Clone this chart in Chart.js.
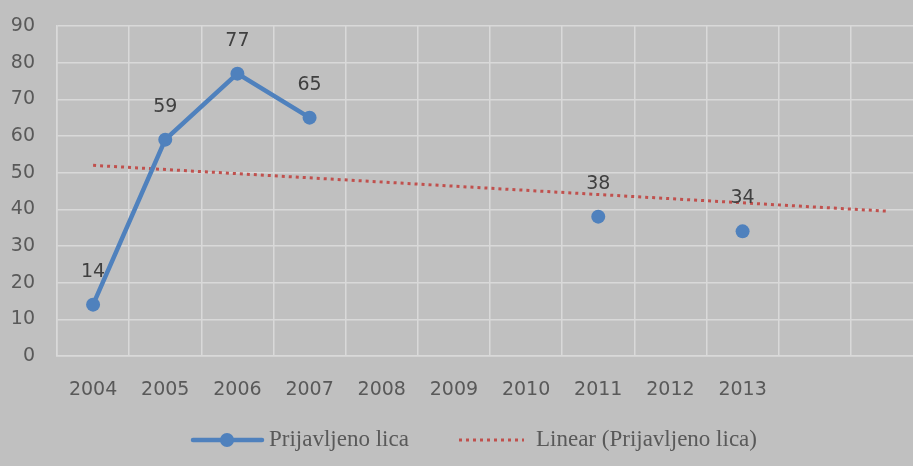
<!DOCTYPE html>
<html>
<head>
<meta charset="utf-8">
<script src="https://cdn.jsdelivr.net/npm/chart.js@4/dist/chart.umd.min.js"></script>
<style>
    html, body { margin: 0; padding: 0; background: #c0c0c0; overflow: hidden; }
    #wrap { width: 930px; height: 466px; }
</style>
</head>
<body>
<div id="wrap"><canvas id="chart"></canvas></div>
<script>
// data
const years = ['2004', '2005', '2006', '2007', '2008', '2009', '2010', '2011', '2012', '2013', '', ''];
const prijavljeno = [14, 59, 77, 65, null, null, null, 38, null, 34, null, null];
// linear trend, start and end
const trend = [52, null, null, null, null, null, null, null, null, null, null, 39.5];
const yTicks = [0, 10, 20, 30, 40, 50, 60, 70, 80, 90];

const seriesName = 'Prijavljeno lica';
const trendName = 'Linear (Prijavljeno lica)';

// values above the blue points
const valueLabels = {
    id: 'valueLabels',
    afterDatasetsDraw(chart) {
        const ctx = chart.ctx;
        const meta = chart.getDatasetMeta(0);
        ctx.save();
        ctx.font = '19px "DejaVu Sans"';
        ctx.fillStyle = '#404040';
        ctx.textAlign = 'center';
        ctx.textBaseline = 'middle';
        meta.data.forEach((pt, i) => {
            if (prijavljeno[i] === null) return;
            ctx.fillText(String(prijavljeno[i]), pt.x, pt.y - 33);
        });
        ctx.restore();
    }
};

// legend drawn by hand, Excel style
const bottomLegend = {
    id: 'bottomLegend',
    afterDraw(chart) {
        const ctx = chart.ctx;
        const y = 440;
        ctx.save();
        // series item
        ctx.strokeStyle = '#4f81bd';
        ctx.lineWidth = 4.5;
        ctx.lineCap = 'round';
        ctx.beginPath();
        ctx.moveTo(193, y);
        ctx.lineTo(262, y);
        ctx.stroke();
        ctx.fillStyle = '#4f81bd';
        ctx.beginPath();
        ctx.arc(227, y, 7, 0, Math.PI * 2);
        ctx.fill();
        // trend item
        ctx.strokeStyle = '#c0504d';
        ctx.lineWidth = 3;
        ctx.lineCap = 'butt';
        ctx.setLineDash([3, 4]);
        ctx.beginPath();
        ctx.moveTo(459, y);
        ctx.lineTo(524, y);
        ctx.stroke();
        ctx.setLineDash([]);
        // texts
        ctx.font = '23px "Liberation Serif"';
        ctx.fillStyle = '#595959';
        ctx.textAlign = 'left';
        ctx.textBaseline = 'middle';
        ctx.fillText(seriesName, 269, y);
        ctx.fillText(trendName, 536, y);
        ctx.restore();
    }
};

new Chart(document.getElementById('chart'), {
    type: 'line',
    data: {
        labels: years,
        datasets: [{
            label: seriesName,
            data: prijavljeno,
            borderColor: '#4f81bd',
            backgroundColor: '#4f81bd',
            borderWidth: 4.5,
            pointRadius: 7,
            pointHoverRadius: 7,
            pointBorderWidth: 0,
            spanGaps: false,
            tension: 0
        }, {
            label: trendName,
            data: trend,
            borderColor: '#c0504d',
            borderWidth: 3,
            borderDash: [3, 4],
            pointRadius: 0,
            spanGaps: true,
            tension: 0
        }]
    },
    options: {
        responsive: true,
        maintainAspectRatio: false,
        animation: false,
        layout: {
            padding: { top: 26, right: 5, bottom: 70, left: 0 }
        },
        plugins: {
            legend: { display: false },
            tooltip: { enabled: false }
        },
        scales: {
            x: {
                offset: true,
                grid: {
                    offset: true,
                    color: '#d9d9d9',
                    lineWidth: 1.5,
                    drawTicks: false
                },
                border: { color: '#d9d9d9', width: 1.5 },
                ticks: {
                    color: '#595959',
                    font: { family: 'DejaVu Sans', size: 19 },
                    padding: 23,
                    maxRotation: 0,
                    autoSkip: false
                },
                afterFit: (scale) => {
                    scale.height = 40;
                    scale.paddingLeft = 0;
                    scale.paddingRight = 0;
                }
            },
            y: {
                min: 0,
                max: 90,
                afterBuildTicks: (scale) => { scale.ticks = yTicks.map(v => ({ value: v })); },
                grid: {
                    color: '#d9d9d9',
                    lineWidth: 1.5,
                    drawTicks: false
                },
                border: { color: '#d9d9d9', width: 1.5 },
                ticks: {
                    color: '#595959',
                    font: { family: 'DejaVu Sans', size: 19 },
                    padding: 22
                },
                afterFit: (scale) => {
                    scale.width = 57;
                    scale.paddingTop = 0;
                    scale.paddingBottom = 0;
                }
            }
        }
    },
    plugins: [valueLabels, bottomLegend]
});
</script>
</body>
</html>
